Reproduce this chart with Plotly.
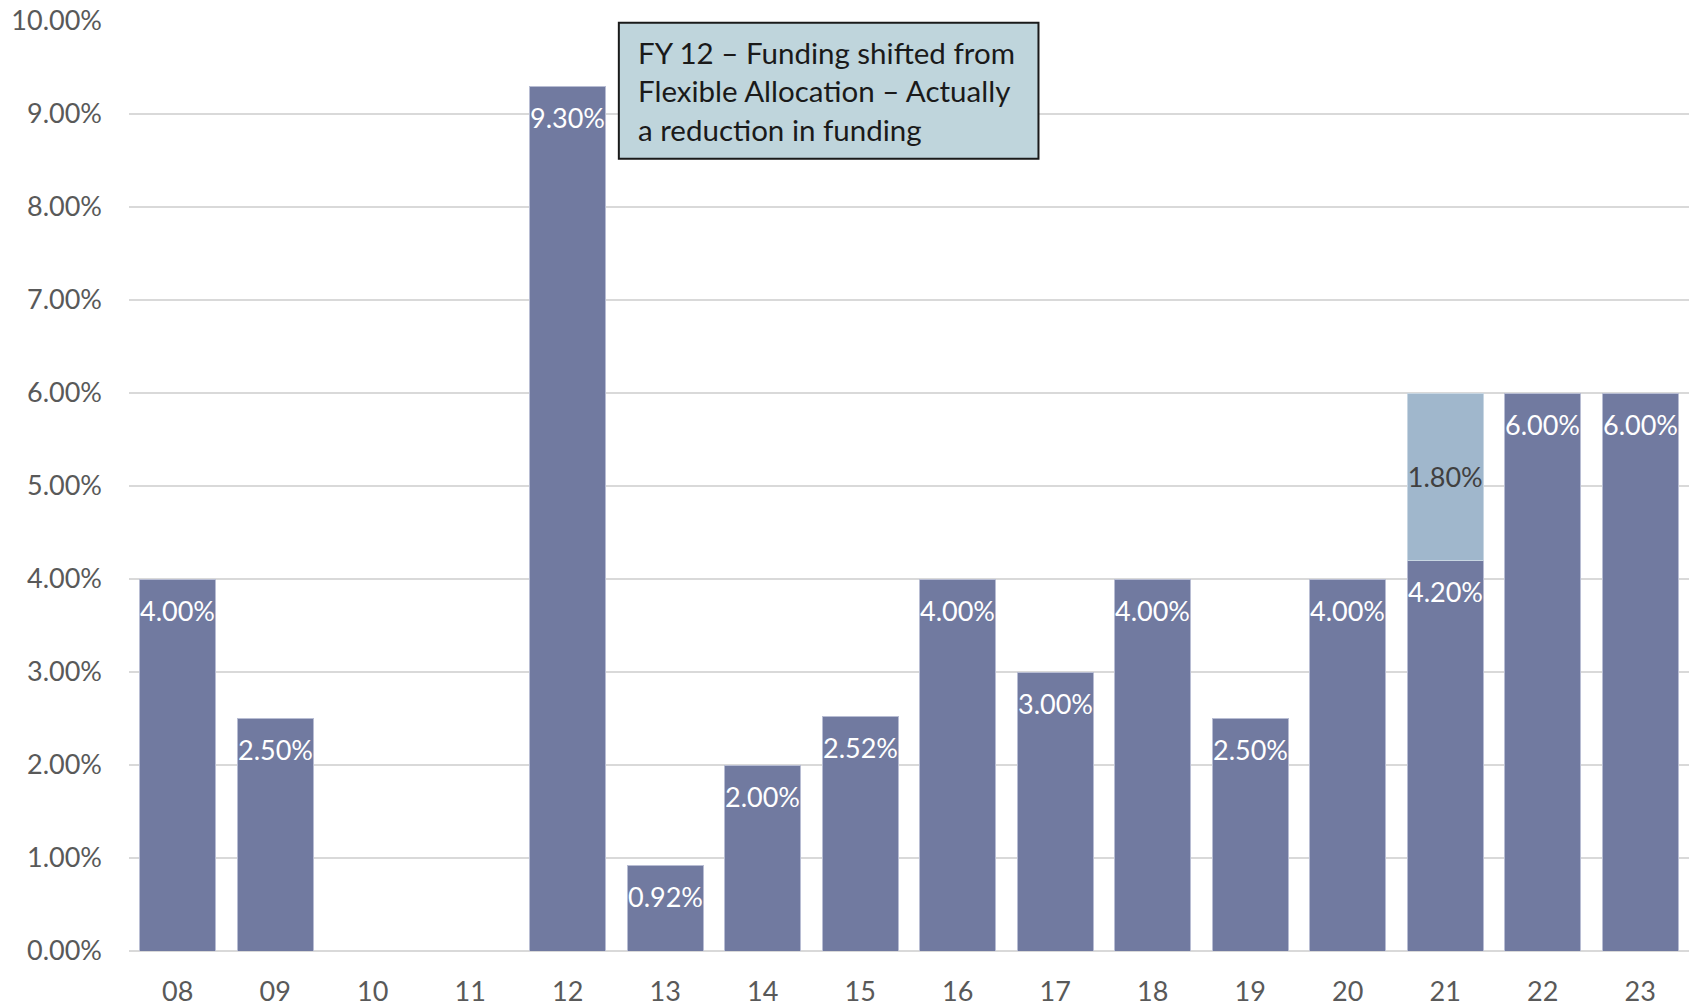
import plotly.graph_objects as go

years = ["08", "09", "10", "11", "12", "13", "14", "15", "16", "17", "18", "19", "20", "21", "22", "23"]
base_pct = [4.00, 2.50, None, None, 9.30, 0.92, 2.00, 2.52, 4.00, 3.00, 4.00, 2.50, 4.00, 4.20, 6.00, 6.00]
extra_pct = [None, None, None, None, None, None, None, None, None, None, None, None, None, 1.80, None, None]
note_text = "FY 12 – Funding shifted from<br>Flexible Allocation – Actually<br>a reduction in funding"

FONT = "Lato, 'Open Sans', sans-serif"
DARK = "#717AA0"
LIGHT = "#A0B7CC"

fig = go.Figure()
fig.add_trace(go.Bar(
    x=years, y=base_pct, marker=dict(color=DARK, line=dict(color="#B8BDD3", width=1)),
    showlegend=False, hoverinfo="x+y",
))
fig.add_trace(go.Bar(
    x=years, y=extra_pct, marker=dict(color=LIGHT, line=dict(color="#C8D6E2", width=1)),
    texttemplate="%{y:.2f}%", textposition="inside", insidetextanchor="middle",
    textangle=0, constraintext="none",
    textfont=dict(color="#404040", size=27, family=FONT),
    showlegend=False,
))

# value labels for the base series, placed just below each bar top
# (category index used as x so the category axis places them on the bars)
for idx, v in enumerate(base_pct):
    if v is None:
        continue
    fig.add_annotation(x=idx, y=v, xref="x", yref="y", text=f"{v:.2f}%",
                       showarrow=False, yanchor="middle", yshift=-31,
                       font=dict(color="white", size=27, family=FONT))

fig.update_layout(
    barmode="stack", bargap=0.22,
    width=1694, height=1006,
    margin=dict(l=129, r=5, t=21, b=55),
    plot_bgcolor="white", paper_bgcolor="white",
    font=dict(family=FONT, color="#595959", size=27),
)
fig.update_yaxes(
    range=[0, 10], dtick=1, tickformat=".2f", ticksuffix="%",
    showgrid=True, gridcolor="#D9D9D9", gridwidth=2,
    zeroline=True, zerolinecolor="#D9D9D9", zerolinewidth=2,
    showline=False, ticks="", ticklabelstandoff=26, automargin=False,
    tickfont=dict(size=27, color="#595959", family=FONT),
)
fig.update_xaxes(
    type="category", categoryorder="array", categoryarray=years,
    range=[-0.5, len(years) - 0.5],
    showline=False, ticks="", ticklabelstandoff=22, automargin=False,
    tickfont=dict(size=27, color="#595959", family=FONT),
)

fig.add_shape(type="rect", xref="paper", yref="paper",
              x0=0.314, x1=0.583, y0=0.852, y1=0.998,
              fillcolor="#BFD5DC", line=dict(color="#1a1a1a", width=2), layer="above")
fig.add_annotation(xref="paper", yref="paper", x=0.325, y=0.925,
                   xanchor="left", yanchor="middle", align="left",
                   text=note_text, showarrow=False,
                   font=dict(size=29.5, color="#1a1a1a", family=FONT))

fig.write_html("out.html")
